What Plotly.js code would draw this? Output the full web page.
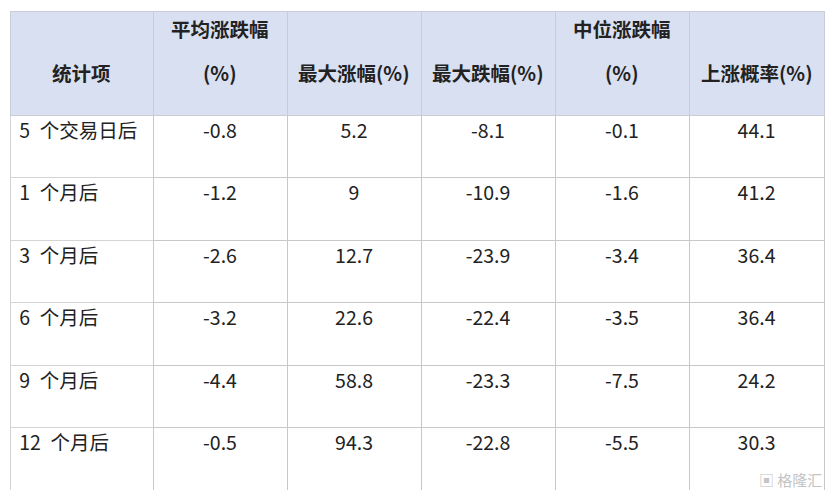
<!DOCTYPE html>
<html><head><meta charset="utf-8">
<script src="https://cdn.plot.ly/plotly-3.0.1.min.js"></script>
<style>html,body{margin:0;padding:0;background:#fff;}</style>
</head><body>
<div id="chart" style="width:831px;height:501px;"></div>
<script>
var headers = ['统计项', '平均涨跌幅<br>(%)', '最大涨幅(%)', '最大跌幅(%)', '中位涨跌幅<br>(%)', '上涨概率(%)'];
var rowLabels = ['5 个交易日后', '1 个月后', '3 个月后', '6 个月后', '9 个月后', '12 个月后'];
var avgChange = [-0.8, -1.2, -2.6, -3.2, -4.4, -0.5];
var maxRise = [5.2, 9, 12.7, 22.6, 58.8, 94.3];
var maxFall = [-8.1, -10.9, -23.9, -22.4, -23.3, -22.8];
var medianChange = [-0.1, -1.6, -3.4, -3.5, -7.5, -5.5];
var upProb = [44.1, 41.2, 36.4, 36.4, 24.2, 30.3];
var colWidths = [143, 134, 134, 134, 134, 135];

var W = 831, H = 501, ML = 10, MR = 7, MT = 11, MB = 11;
var plotW = W - ML - MR, plotH = H - MT - MB;
var totalCol = colWidths.reduce(function(a,b){return a+b;}, 0);

// wider gap between the number and the Chinese text, as in the source table
var rowLabelText = rowLabels.map(function(s){
  return '\u200a' + s.replace(' ', '\u2002');
});

// header labels as annotations (to control line spacing)
var annotations = [];
var acc = 0;
headers.forEach(function(h, i){
  var cx = (acc + colWidths[i] / 2) / totalCol;
  acc += colWidths[i];
  var parts = h.split('<br>');
  var lines = parts.length === 2 ? [[parts[0], 28], [parts[1], 73]] : [[parts[0], 73]];
  lines.forEach(function(l){
    annotations.push({
      text: '<b>' + l[0] + '</b>', x: cx, y: 1 - (l[1] - MT) / plotH,
      xref: 'paper', yref: 'paper', xanchor: 'center', yanchor: 'middle',
      showarrow: false,
      font: {family: 'Noto Sans CJK SC', size: 19.5, color: '#222222'}
    });
  });
});
annotations.push({
  text: '▣ 格隆汇', x: 1, y: -0.005, xref: 'paper', yref: 'paper',
  xanchor: 'right', yanchor: 'bottom', showarrow: false,
  font: {family: 'Noto Sans CJK SC', size: 15, color: '#c4c4c4'}
});

var trace = {
  type: 'table',
  columnwidth: colWidths,
  header: {
    values: headers.map(function(){ return ''; }),
    fill: {color: '#d9e0f1'},
    line: {color: '#c9ccd6', width: 1},
    font: {family: 'Noto Sans CJK SC', size: 19, color: '#222222'},
    height: 104
  },
  cells: {
    values: [rowLabelText, avgChange, maxRise, maxFall, medianChange, upProb],
    align: ['left','center','center','center','center','center'],
    fill: {color: '#ffffff'},
    line: {color: ['#d4d4d4','#c8c8c8','#c8c8c8','#c8c8c8','#c8c8c8','#c8c8c8'], width: 1},
    font: {family: 'Noto Sans CJK SC', size: 19.5, color: '#222222'},
    height: 62.5
  }
};

var layout = {
  width: W, height: H,
  margin: {l: ML, r: MR, t: MT, b: MB},
  paper_bgcolor: '#ffffff',
  annotations: annotations
};

Plotly.newPlot('chart', [trace], layout, {displayModeBar: false, staticPlot: true});
</script>
</body></html>
